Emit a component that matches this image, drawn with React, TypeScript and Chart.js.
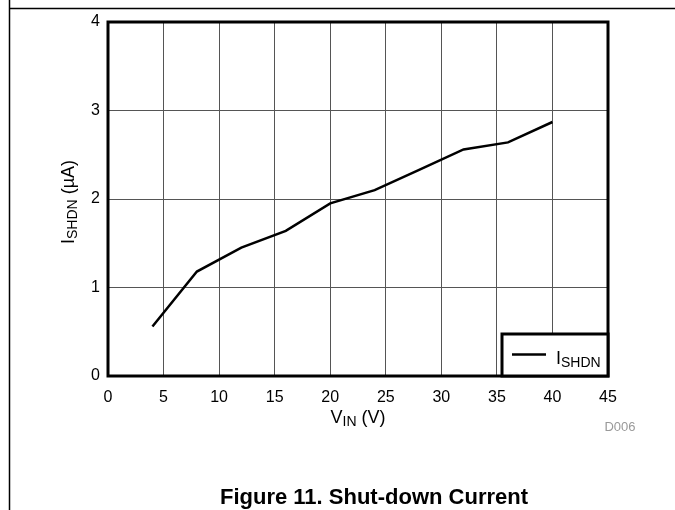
import React, { useEffect, useRef } from "react";
import { Chart, registerables } from "chart.js";

Chart.register(...registerables);

// ---- data ----
const vinValues = [4, 8, 12, 16, 20, 24, 28, 32, 36, 40];
const ishdnValues = [0.56, 1.18, 1.45, 1.64, 1.95, 2.1, 2.33, 2.56, 2.64, 2.87];
const xTickValues = [0, 5, 10, 15, 20, 25, 30, 35, 40, 45];
const yTickValues = [0, 1, 2, 3, 4];
const seriesLabel = "ISHDN";
const xTitleParts = [
  { t: "V", sub: false },
  { t: "IN", sub: true },
  { t: " (V)", sub: false },
];
const yTitleParts = [
  { t: "I", sub: false },
  { t: "SHDN", sub: true },
  { t: " (µA)", sub: false },
];
const legendParts = [
  { t: "I", sub: false },
  { t: "SHDN", sub: true },
];
const captionText = "Figure 11. Shut-down Current";
const figureId = "D006";

const FONT = '"Liberation Sans", Arial, Helvetica, sans-serif';
const MAIN = 18;
const SUB = 14;
const SUBDY = 3;

type Part = { t: string; sub: boolean };

function partFont(p: Part) {
  return `${p.sub ? SUB : MAIN}px ${FONT}`;
}

function measureRich(ctx: CanvasRenderingContext2D, parts: Part[]) {
  let w = 0;
  for (const p of parts) {
    ctx.font = partFont(p);
    w += ctx.measureText(p.t).width;
  }
  return w;
}

function drawRich(
  ctx: CanvasRenderingContext2D,
  parts: Part[],
  x: number,
  baseline: number,
  align: "center" | "left"
) {
  const w = measureRich(ctx, parts);
  let cx = align === "center" ? x - w / 2 : x;
  ctx.textAlign = "left";
  ctx.textBaseline = "alphabetic";
  for (const p of parts) {
    ctx.font = partFont(p);
    ctx.fillText(p.t, cx, baseline + (p.sub ? SUBDY : 0));
    cx += ctx.measureText(p.t).width;
  }
}

const decorPlugin = {
  id: "decor",
  beforeDatasetsDraw(chart: any) {
    const { ctx, chartArea } = chart;
    ctx.save();
    ctx.strokeStyle = "#000";
    ctx.lineWidth = 3;
    ctx.strokeRect(
      chartArea.left,
      chartArea.top,
      chartArea.right - chartArea.left,
      chartArea.bottom - chartArea.top
    );
    ctx.restore();
  },
  afterDraw(chart: any) {
    const { ctx, chartArea } = chart;
    ctx.save();
    // outer frame lines
    ctx.strokeStyle = "#000";
    ctx.lineWidth = 1.5;
    ctx.beginPath();
    ctx.moveTo(9.5, 0);
    ctx.lineTo(9.5, 510);
    ctx.moveTo(9.5, 8.5);
    ctx.lineTo(675, 8.5);
    ctx.stroke();

    ctx.fillStyle = "#000";
    // x title
    drawRich(ctx, xTitleParts, (chartArea.left + chartArea.right) / 2, 423, "center");
    // y title
    ctx.save();
    ctx.translate(74, (chartArea.top + chartArea.bottom) / 2 + 3);
    ctx.rotate(-Math.PI / 2);
    drawRich(ctx, yTitleParts, 0, 0, "center");
    ctx.restore();

    // legend
    const lx = 502;
    const ly = 334;
    const lw = chartArea.right - lx;
    const lh = chartArea.bottom - ly;
    ctx.fillStyle = "#fff";
    ctx.fillRect(lx, ly, lw, lh);
    ctx.strokeStyle = "#000";
    ctx.lineWidth = 3;
    ctx.strokeRect(lx, ly, lw, lh);
    ctx.lineWidth = 2.5;
    ctx.beginPath();
    ctx.moveTo(512, 354.5);
    ctx.lineTo(546, 354.5);
    ctx.stroke();
    ctx.fillStyle = "#000";
    drawRich(ctx, legendParts, 556, 364, "left");

    // figure id
    ctx.fillStyle = "#999";
    ctx.font = `13px ${FONT}`;
    ctx.textAlign = "center";
    ctx.textBaseline = "alphabetic";
    ctx.fillText(figureId, 620, 431);

    // caption
    ctx.fillStyle = "#000";
    ctx.font = `bold 22px ${FONT}`;
    ctx.textAlign = "center";
    ctx.fillText(captionText, 374, 504);
    ctx.restore();
  },
};

export default function App() {
  const canvasRef = useRef<HTMLCanvasElement | null>(null);

  useEffect(() => {
    const canvas = canvasRef.current;
    if (!canvas) return;
    const chart = new Chart(canvas, {
      type: "line",
      data: {
        datasets: [
          {
            label: seriesLabel,
            data: vinValues.map((v, i) => ({ x: v, y: ishdnValues[i] })),
            borderColor: "#000",
            backgroundColor: "#000",
            borderWidth: 2.5,
            pointRadius: 0,
            tension: 0,
            fill: false,
          },
        ],
      },
      options: {
        responsive: false,
        animation: false,
        devicePixelRatio: 1,
        layout: { padding: { left: 0, top: 22, right: 67, bottom: 94 } },
        plugins: {
          legend: { display: false },
          tooltip: { enabled: false },
          title: { display: false },
        },
        scales: {
          x: {
            type: "linear",
            min: 0,
            max: 45,
            afterBuildTicks: (scale: any) => {
              scale.ticks = xTickValues.map((v) => ({ value: v }));
            },
            afterFit: (scale: any) => {
              scale.height = 40;
            },
            grid: { color: "#555", lineWidth: 1, drawTicks: false },
            border: { display: false },
            ticks: {
              color: "#000",
              font: { family: FONT, size: 16 },
              padding: 12,
              maxRotation: 0,
              autoSkip: false,
            },
          },
          y: {
            type: "linear",
            min: 0,
            max: 4,
            afterBuildTicks: (scale: any) => {
              scale.ticks = yTickValues.map((v) => ({ value: v }));
            },
            afterFit: (scale: any) => {
              scale.width = 108;
            },
            grid: { color: "#555", lineWidth: 1, drawTicks: false },
            border: { display: false },
            ticks: {
              color: "#000",
              font: { family: FONT, size: 16 },
              padding: 8,
              autoSkip: false,
            },
          },
        },
      },
      plugins: [decorPlugin],
    });
    return () => chart.destroy();
  }, []);

  return (
    <div style={{ position: "absolute", left: 0, top: 0, width: 675, height: 510, background: "#fff" }}>
      <canvas ref={canvasRef} width={675} height={510} style={{ width: 675, height: 510, display: "block" }} />
    </div>
  );
}
